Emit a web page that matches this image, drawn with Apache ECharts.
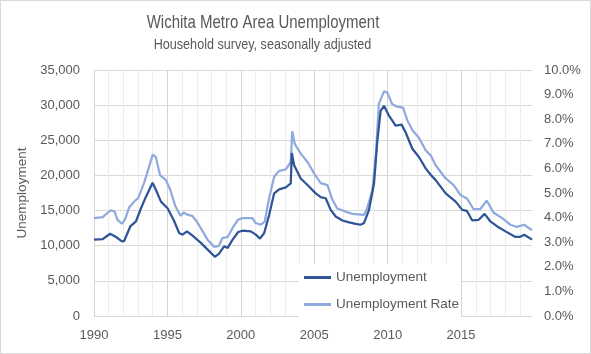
<!DOCTYPE html>
<html>
<head>
<meta charset="utf-8">
<script src="https://cdn.jsdelivr.net/npm/echarts@6/dist/echarts.min.js"></script>
<style>
  html, body { margin: 0; padding: 0; background: #fff; }
  #chart { width: 591px; height: 354px; box-sizing: border-box; border: 1px solid #d9d9d9; }
</style>
</head>
<body>
<div id="chart"></div>
<script>
// 失业人数（人）与失业率（%），按月份折算成小数年份读图
var unempYears = [1990.0, 1990.6, 1991.1, 1991.5, 1991.9, 1992.06, 1992.47, 1992.86, 1993.2, 1993.54,
  1993.99, 1994.22, 1994.56, 1995.01, 1995.42, 1995.8, 1996.03, 1996.33, 1996.71, 1997.28,
  1997.62, 1997.73, 1998.23, 1998.52, 1998.86, 1999.1, 1999.44, 1999.82, 2000.12, 2000.68,
  2001.02, 2001.31, 2001.59, 2001.93, 2002.27, 2002.61, 2003.06, 2003.4, 2003.47, 2003.63,
  2004.08, 2004.54, 2005.1, 2005.44, 2005.78, 2006.12, 2006.46, 2006.92, 2007.37, 2007.82,
  2008.16, 2008.39, 2008.73, 2009.07, 2009.3, 2009.52, 2009.75, 2010.09, 2010.54, 2010.95,
  2011.22, 2011.68, 2012.13, 2012.59, 2012.93, 2013.27, 2013.95, 2014.63, 2015.08, 2015.4,
  2015.76, 2016.2, 2016.6, 2017.0, 2017.46, 2018.03, 2018.7, 2019.0, 2019.3, 2019.84];
var unempValues = [10860, 10950, 11700, 11240, 10630, 10700, 12740, 13450, 15330, 16980,
  18950, 17920, 16270, 15330, 13690, 11810, 11570, 12040, 11430, 10400,
  9690, 9450, 8420, 8890, 9920, 9690, 10860, 11950, 12130, 12040,
  11570, 11000, 11810, 14390, 17450, 18020, 18300, 18860, 23200, 21450,
  19570, 18630, 17450, 16900, 16750, 15100, 14150, 13590, 13310, 13120,
  12980, 13220, 15100, 18860, 24970, 29200, 29910, 28500, 27090, 27230,
  26150, 23800, 22620, 21000, 20100, 19330, 17450, 16270, 15100, 14950,
  13590, 13690, 14530, 13450, 12740, 12040, 11240, 11240, 11570, 10860];

var rateYears = [1990.0, 1990.6, 1991.1, 1991.4, 1991.6, 1991.9, 1992.1, 1992.4, 1992.8, 1993.0,
  1993.4, 1993.75, 1994.0, 1994.2, 1994.5, 1994.9, 1995.2, 1995.55, 1995.9, 1996.1,
  1996.4, 1996.7, 1997.0, 1997.45, 1997.73, 1998.2, 1998.5, 1998.75, 1999.1, 1999.44,
  1999.8, 2000.1, 2000.8, 2001.0, 2001.36, 2001.63, 2001.9, 2002.27, 2002.6, 2003.06,
  2003.4, 2003.5, 2003.67, 2004.08, 2004.54, 2005.0, 2005.44, 2005.9, 2006.2, 2006.55,
  2007.1, 2007.6, 2008.4, 2008.6, 2008.96, 2009.2, 2009.4, 2009.75, 2009.98, 2010.3,
  2010.65, 2011.05, 2011.35, 2011.7, 2012.1, 2012.6, 2012.93, 2013.27, 2013.95, 2014.5,
  2014.95, 2015.4, 2015.85, 2016.3, 2016.75, 2017.2, 2017.8, 2018.35, 2018.8, 2019.3, 2019.84];
var rateValues = [3.98, 4.02, 4.29, 4.25, 3.91, 3.75, 3.91, 4.42, 4.69, 4.78,
  5.39, 6.06, 6.56, 6.47, 5.73, 5.52, 5.12, 4.45, 4.07, 4.21,
  4.11, 4.07, 3.84, 3.4, 3.1, 2.81, 2.85, 3.17, 3.21, 3.58,
  3.91, 3.98, 3.98, 3.78, 3.71, 3.84, 4.72, 5.66, 5.9, 5.96,
  6.26, 7.51, 7.0, 6.6, 6.26, 5.79, 5.4, 5.32, 4.78, 4.38,
  4.25, 4.15, 4.11, 4.38, 5.12, 6.6, 8.62, 9.13, 9.08, 8.62,
  8.51, 8.47, 7.94, 7.54, 7.27, 6.73, 6.53, 6.13, 5.59, 5.32,
  4.92, 4.78, 4.34, 4.34, 4.69, 4.21, 3.98, 3.71, 3.62, 3.71, 3.48];

var seriesNames = ['Unemployment', 'Unemployment Rate'];
var titleText = 'Wichita Metro Area Unemployment';
var subtitleText = 'Household survey, seasonally adjusted';
var FONT = '"Liberation Sans", Arial, sans-serif';
var TXT = '#595959';

function pairs(xs, ys) {
  return xs.map(function (x, i) { return [x, ys[i]]; });
}

var chart = echarts.init(document.getElementById('chart'));
chart.setOption({
  animation: false,
  textStyle: { fontFamily: FONT, color: TXT },
  // 原图标题是窄体字，这里用横向压缩来近似
  graphic: [
    {
      type: 'text', x: 262, y: 21.5, scaleX: 0.79,
      style: { text: titleText, align: 'center', verticalAlign: 'middle',
        font: '19px ' + FONT, fill: TXT }
    },
    {
      type: 'text', x: 261.5, y: 43.5, scaleX: 0.84,
      style: { text: subtitleText, align: 'center', verticalAlign: 'middle',
        font: '15px ' + FONT, fill: TXT }
    }
  ],
  legend: {
    data: seriesNames,
    orient: 'vertical',
    left: 298,
    top: 263,
    icon: 'rect',
    itemWidth: 27,
    itemHeight: 3,
    itemGap: 10,
    padding: [5, 2, 5, 5],
    backgroundColor: '#fff',
    textStyle: { fontFamily: FONT, fontSize: 13.5, color: TXT, lineHeight: 17 }
  },
  grid: { left: 93, right: 58, top: 69, bottom: 37 },
  xAxis: {
    type: 'value',
    min: 1990,
    max: 2019.83,
    interval: 1,
    axisLine: { show: true, lineStyle: { color: '#d9d9d9' } },
    axisTick: { show: false },
    axisLabel: {
      fontFamily: FONT, fontSize: 13, color: TXT, margin: 13,
      showMaxLabel: false,
      formatter: function (v) { return v % 5 === 0 ? String(v) : ''; }
    },
    splitLine: {
      show: true,
      showMaxLine: false,
      lineStyle: { color: ['#d4d4d4', '#ececec', '#ececec', '#ececec', '#ececec'], width: 1 }
    }
  },
  yAxis: [
    {
      type: 'value',
      min: 0, max: 35000, interval: 5000,
      name: 'Unemployment',
      nameLocation: 'middle',
      nameRotate: 90,
      nameGap: 48,
      nameTextStyle: { fontFamily: FONT, fontSize: 13.5, color: TXT },
      axisLine: { show: false },
      axisTick: { show: false },
      axisLabel: {
        fontFamily: FONT, fontSize: 13, color: TXT, margin: 14,
        formatter: function (v) { return v.toLocaleString('en-US'); }
      },
      splitLine: { lineStyle: { color: '#d9d9d9' } }
    },
    {
      type: 'value',
      min: 0, max: 10, interval: 1,
      axisLine: { show: false },
      axisTick: { show: false },
      axisLabel: {
        fontFamily: FONT, fontSize: 13, color: TXT, margin: 12,
        formatter: function (v) { return v.toFixed(1) + '%'; }
      },
      splitLine: { show: false }
    }
  ],
  series: [
    {
      name: seriesNames[0],
      type: 'line',
      yAxisIndex: 0,
      data: pairs(unempYears, unempValues),
      showSymbol: false,
      color: '#2F5597',
      lineStyle: { width: 2.25, color: '#2F5597' },
      z: 3
    },
    {
      name: seriesNames[1],
      type: 'line',
      yAxisIndex: 1,
      data: pairs(rateYears, rateValues),
      showSymbol: false,
      color: '#8FAADC',
      lineStyle: { width: 2.25, color: '#8FAADC' },
      z: 2
    }
  ]
});
</script>
</body>
</html>
